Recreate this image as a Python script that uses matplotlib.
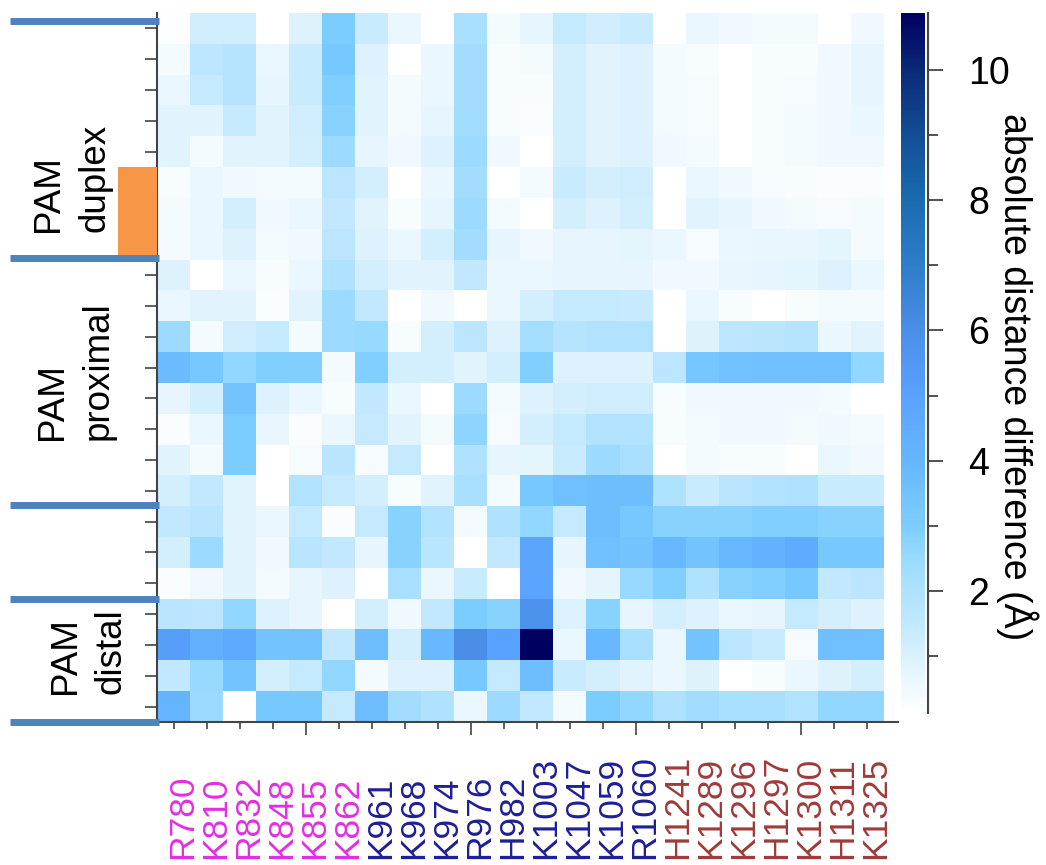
import numpy as np
import matplotlib
matplotlib.use('agg')
import matplotlib.pyplot as plt
import matplotlib.colors as mcolors
import matplotlib.transforms as mtransforms
from matplotlib.colors import LinearSegmentedColormap
from matplotlib.patches import Rectangle
from matplotlib.ticker import FixedLocator

plt.rcParams['font.family'] = ['Liberation Sans', 'DejaVu Sans']

# residues along the x axis, grouped by label colour
residues_a = ['R780', 'K810', 'R832', 'K848', 'K855', 'K862']
residues_b = ['K961', 'K968', 'K974', 'R976', 'H982', 'K1003', 'K1047', 'K1059', 'R1060']
residues_c = ['H1241', 'K1289', 'K1296', 'H1297', 'K1300', 'H1311', 'K1325']

# absolute distance difference (A), one row per DNA position
duplex_rows = [
    [0.2, 1.2, 1.2, 0.1, 0.9, 3.0, 1.3, 0.6, 0.1, 2.1, 0.4, 0.7, 1.4, 1.2, 1.3, 0.15, 0.6, 0.5, 0.4, 0.4, 0.1, 0.5],
    [0.4, 1.6, 1.8, 0.6, 1.3, 3.2, 0.9, 0.15, 0.6, 2.3, 0.3, 0.4, 1.1, 0.8, 0.9, 0.4, 0.3, 0.1, 0.3, 0.3, 0.5, 0.7],
    [0.6, 1.4, 1.8, 0.7, 1.3, 2.9, 0.8, 0.4, 0.6, 2.3, 0.3, 0.3, 1.1, 0.8, 0.9, 0.4, 0.35, 0.1, 0.3, 0.35, 0.5, 0.7],
    [0.8, 0.8, 1.4, 0.8, 1.2, 2.8, 0.8, 0.4, 0.7, 2.3, 0.3, 0.25, 1.1, 0.8, 0.9, 0.4, 0.35, 0.1, 0.3, 0.4, 0.5, 0.6],
    [0.8, 0.4, 0.8, 0.8, 1.1, 2.4, 0.7, 0.5, 0.9, 2.4, 0.5, 0.1, 1.1, 0.8, 0.9, 0.5, 0.4, 0.1, 0.3, 0.4, 0.5, 0.5],
    [0.3, 0.6, 0.5, 0.4, 0.4, 1.6, 1.1, 0.15, 0.6, 2.3, 0.15, 0.4, 1.3, 1.1, 1.2, 0.1, 0.6, 0.5, 0.35, 0.3, 0.25, 0.25],
    [0.4, 0.6, 1.1, 0.5, 0.6, 1.5, 0.8, 0.3, 0.7, 2.4, 0.4, 0.1, 1.1, 0.9, 1.1, 0.1, 0.8, 0.7, 0.5, 0.4, 0.35, 0.4],
    [0.4, 0.6, 0.9, 0.4, 0.5, 1.6, 0.9, 0.6, 1.1, 2.3, 0.7, 0.5, 0.7, 0.7, 0.75, 0.6, 0.35, 0.6, 0.65, 0.65, 0.75, 0.4],
]
proximal_rows = [
    [0.9, 0.15, 0.6, 0.3, 0.6, 2.0, 1.1, 0.8, 0.8, 1.5, 0.6, 0.6, 0.7, 0.7, 0.7, 0.5, 0.5, 0.65, 0.7, 0.75, 0.9, 0.6],
    [0.6, 0.8, 0.8, 0.25, 0.8, 2.4, 1.5, 0.1, 0.5, 0.1, 0.6, 1.1, 1.4, 1.4, 1.35, 0.1, 0.6, 0.3, 0.1, 0.3, 0.4, 0.4],
    [2.4, 0.4, 1.2, 1.4, 0.4, 2.4, 2.5, 0.3, 1.1, 1.6, 0.9, 2.2, 1.8, 1.9, 1.9, 0.1, 0.9, 1.6, 1.7, 1.8, 0.6, 0.8],
    [3.8, 3.2, 2.6, 2.9, 2.9, 0.4, 2.9, 1.1, 1.1, 0.8, 1.1, 2.9, 0.9, 0.9, 0.9, 1.6, 3.3, 3.5, 3.6, 3.6, 3.6, 2.6],
    [0.7, 1.1, 3.4, 0.9, 0.6, 0.3, 1.5, 0.6, 0.1, 2.4, 0.4, 0.9, 1.1, 1.2, 1.2, 0.3, 0.5, 0.5, 0.5, 0.5, 0.4, 0.1],
    [0.25, 0.6, 3.0, 0.65, 0.25, 0.6, 1.4, 0.8, 0.4, 2.7, 0.35, 1.1, 1.4, 1.9, 1.9, 0.3, 0.4, 0.5, 0.5, 0.4, 0.5, 0.4],
    [0.8, 0.4, 3.0, 0.1, 0.35, 1.7, 0.35, 1.4, 0.1, 2.0, 0.7, 0.75, 1.3, 2.4, 2.1, 0.1, 0.4, 0.3, 0.3, 0.1, 0.6, 0.5],
    [1.1, 1.5, 0.8, 0.1, 1.9, 1.4, 1.1, 0.3, 0.8, 2.1, 0.4, 3.2, 3.6, 3.7, 3.7, 2.0, 1.3, 1.7, 1.9, 2.0, 1.3, 1.3],
]
middle_rows = [
    [1.5, 1.7, 0.8, 0.6, 1.4, 0.25, 1.4, 2.8, 1.9, 0.4, 2.0, 2.6, 1.4, 3.7, 3.2, 2.8, 2.8, 2.8, 2.9, 2.9, 2.8, 2.8],
    [1.1, 2.4, 0.8, 0.5, 1.7, 1.5, 0.7, 2.8, 1.7, 0.1, 1.5, 4.8, 0.7, 3.6, 3.4, 3.9, 3.4, 3.9, 4.2, 4.5, 3.2, 3.2],
    [0.25, 0.5, 0.8, 0.4, 0.7, 0.9, 0.1, 2.1, 0.6, 1.3, 0.1, 4.9, 0.5, 0.75, 2.5, 2.9, 2.0, 2.8, 2.9, 3.2, 1.5, 1.6],
]
distal_rows = [
    [1.7, 1.6, 2.6, 0.9, 0.7, 0.1, 1.1, 0.5, 1.5, 3.0, 2.8, 5.8, 0.9, 2.8, 0.7, 1.1, 0.9, 0.6, 0.7, 1.4, 1.1, 0.9],
    [5.2, 4.3, 4.6, 3.4, 3.4, 1.5, 3.7, 1.1, 3.9, 6.0, 5.0, 10.9, 0.6, 3.9, 2.1, 0.6, 3.4, 1.6, 1.3, 0.35, 3.6, 3.6],
    [1.5, 2.5, 3.4, 1.1, 1.4, 2.6, 0.4, 0.9, 0.9, 3.2, 1.4, 3.7, 1.3, 1.1, 0.8, 0.6, 0.9, 0.1, 0.3, 0.6, 0.9, 1.1],
    [4.1, 2.4, 0.1, 3.2, 3.2, 1.4, 3.7, 2.3, 2.0, 0.6, 2.4, 1.5, 0.4, 3.0, 2.6, 2.0, 2.3, 2.1, 2.1, 1.9, 2.6, 2.6],
]

# region labels on the left and their colours
region_names = ['PAM\nduplex', 'PAM\nproximal', '', 'PAM\ndistal']
label_colors = ['#e22ee2', '#1e1e96', '#a03a3a']

data = np.array(duplex_rows + proximal_rows + middle_rows + distal_rows)
residues = residues_a + residues_b + residues_c
res_colors = ([label_colors[0]] * len(residues_a) + [label_colors[1]] * len(residues_b)
              + [label_colors[2]] * len(residues_c))
nrow, ncol = data.shape

vmin, vmax = 0.12, 10.88
stops = [(0.1, '#ffffff'), (0.5, '#eff9ff'), (1.0, '#d8f1fd'), (1.5, '#c0e8ff'),
         (2.0, '#aee2ff'), (2.5, '#98daff'), (3.0, '#7ccdff'), (3.5, '#72c2ff'),
         (4.0, '#66b6ff'), (5.0, '#5aa2ff'), (6.0, '#4a8ee8'), (7.0, '#2e7ec8'),
         (8.0, '#1a6cb0'), (9.0, '#134e96'), (10.0, '#0a2a78'), (10.88, '#000060')]
cmap = LinearSegmentedColormap.from_list(
    'absdiff', [(max(0, (v - vmin) / (vmax - vmin)), c) for v, c in stops])
norm = mcolors.Normalize(vmin=vmin, vmax=vmax)

W, H = 1046, 865
fig = plt.figure(figsize=(W / 100, H / 100), dpi=100)
ax = fig.add_axes([157 / W, 1 - 722 / H, 741 / W, 709 / H])

im = ax.imshow(data, cmap=cmap, norm=norm, aspect='auto', interpolation='nearest')
ax.set_xlim(-0.5, ncol - 0.05)
ax.set_ylim(nrow - 0.5, -0.5)

for s in ['top', 'right']:
    ax.spines[s].set_visible(False)
for s in ['left', 'bottom']:
    ax.spines[s].set_color('#444444')
    ax.spines[s].set_linewidth(1.5)

ax.set_yticks(np.arange(nrow))
ax.set_yticklabels([])
ax.tick_params(axis='y', length=8.5, width=1.1, color='#333333')

major = [i for i in range(ncol) if i % 5 == 4]
minor = [i for i in range(ncol) if i % 5 != 4]
ax.set_xticks(major)
ax.set_xticks(minor, minor=True)
ax.set_xticklabels([])
ax.tick_params(axis='x', which='major', length=9.5, width=1.1, color='#333333')
ax.tick_params(axis='x', which='minor', length=5, width=1.1, color='#333333')

xtrans = ax.get_xaxis_transform()
for i, (name, col) in enumerate(zip(residues, res_colors)):
    ax.text(i + 0.27, -0.193, name, rotation=90, ha='center', va='bottom',
            color=col, fontsize=25.5, transform=xtrans)

# region brackets on the left
ytrans = mtransforms.blended_transform_factory(ax.transAxes, ax.transData)
ax.add_patch(Rectangle((-0.053, 4.5), 0.053, 3.0, transform=ytrans,
                       facecolor='#f79646', edgecolor='none', clip_on=False, zorder=3))
sep_rows = [-0.25, 7.45, 15.45, 18.5, 22.5]
for yy in sep_rows:
    ax.plot([-0.198, 0.003], [yy, yy], color='#4f81bd', lw=5, transform=ytrans,
            clip_on=False, solid_capstyle='butt', zorder=4)

region_y = [4.85, 11.1, 17.0, 20.2]
region_x = [-0.115, -0.11, -0.10, -0.093]
for name, yy, xx in zip(region_names, region_y, region_x):
    if name:
        ax.text(xx, yy, name, rotation=90, ha='center', va='center',
                multialignment='left', linespacing=1.4, fontsize=26.5,
                transform=ytrans)

# colorbar
cax = fig.add_axes([901 / W, 1 - 713 / H, 24 / W, 700 / H])
cb = fig.colorbar(im, cax=cax)
cb.outline.set_visible(False)
cb.set_ticks([2, 4, 6, 8, 10])
cb.ax.yaxis.set_minor_locator(FixedLocator([1, 3, 5, 7, 9]))
cb.ax.spines['right'].set_visible(True)
cb.ax.spines['right'].set_position(('outward', 2))
cb.ax.spines['right'].set_color('#444444')
cb.ax.spines['right'].set_linewidth(1.5)
cb.ax.tick_params(which='major', length=11, width=1.2, labelsize=27, pad=18, color='#333333')
cb.ax.tick_params(which='minor', length=7, width=1.2, color='#333333')
cb.set_label('absolute distance difference (Å)', rotation=270, va='bottom', fontsize=27)
cb.ax.yaxis.set_label_coords(3.95, 0.48)

fig.savefig('out.png', dpi=100, facecolor='white')
